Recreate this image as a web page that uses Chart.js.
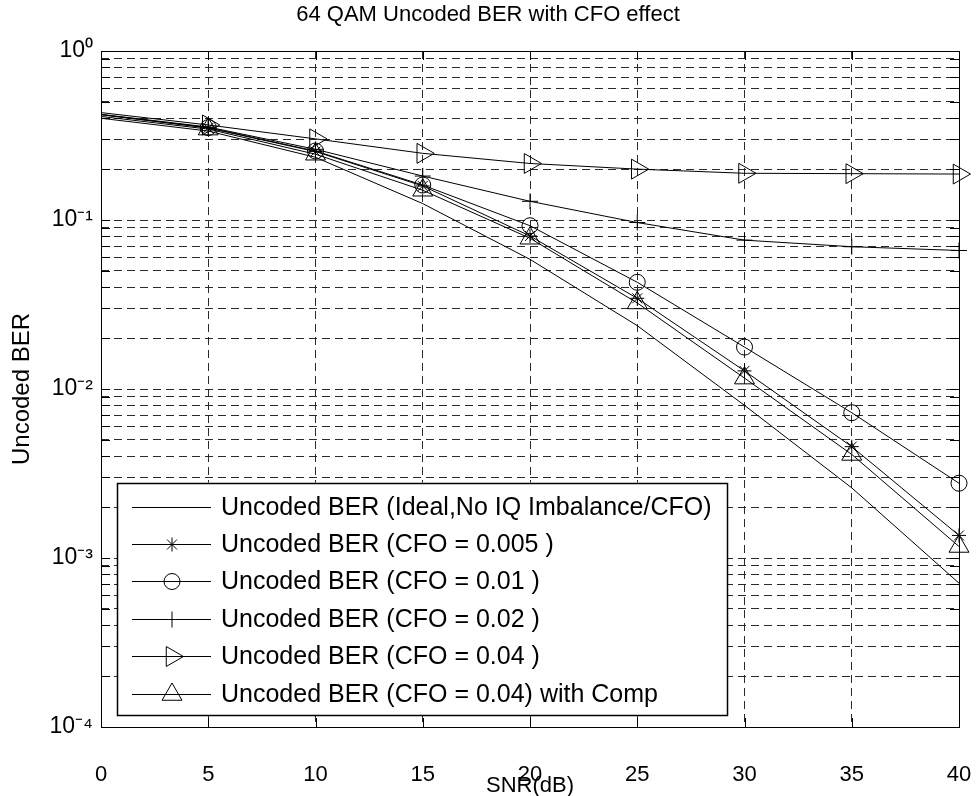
<!DOCTYPE html>
<html>
<head>
<meta charset="utf-8">
<script src="https://cdn.jsdelivr.net/npm/chart.js@4.4.0/dist/chart.umd.min.js"></script>
<style>
    html, body { margin: 0; padding: 0; background: #fff; }
    #wrap { width: 976px; height: 796px; }
</style>
</head>
<body>
<div id="wrap"><canvas id="berChart"></canvas></div>
<script>
// SNR points (dB)
const snr = [0, 5, 10, 15, 20, 25, 30, 35, 40];

// uncoded BER
const berIdeal     = [0.400, 0.336, 0.235, 0.125, 0.0585, 0.0237, 0.0080, 0.0026, 0.00071];
const berCfo005    = [0.420, 0.350, 0.254, 0.159, 0.0804, 0.0344, 0.0128, 0.00456, 0.00136];
const berCfo01     = [0.420, 0.352, 0.256, 0.161, 0.0925, 0.0428, 0.0177, 0.00724, 0.00277];
const berCfo02     = [0.422, 0.355, 0.262, 0.182, 0.129, 0.0966, 0.0760, 0.0695, 0.0660];
const berCfo04     = [0.432, 0.365, 0.302, 0.248, 0.216, 0.200, 0.189, 0.188, 0.187];
const berCfo04Comp = [0.410, 0.345, 0.245, 0.150, 0.078, 0.0323, 0.0116, 0.0041, 0.00117];

const seriesNames = [
    'Uncoded BER (Ideal,No IQ Imbalance/CFO)',
    'Uncoded BER (CFO = 0.005 )',
    'Uncoded BER (CFO = 0.01 )',
    'Uncoded BER (CFO = 0.02 )',
    'Uncoded BER (CFO = 0.04 )',
    'Uncoded BER (CFO = 0.04) with Comp'
];

// axis ticks
const xTicks = [0, 5, 10, 15, 20, 25, 30, 35, 40];
const yDecades = [1e-4, 1e-3, 1e-2, 1e-1, 1];
const yDecadeLabels = ['10⁻⁴', '10⁻³', '10⁻²', '10⁻¹', '10⁰'];
const yMinorSteps = [2, 3, 4, 5, 6, 7, 8, 9];

const FONT = "'Liberation Sans', Arial, Helvetica, sans-serif";

function makeSet(label, data, style, radius, rotation) {
    return {
        label: label,
        data: snr.map((x, i) => ({ x: x, y: data[i] })),
        borderColor: '#000',
        borderWidth: 1,
        pointStyle: style,
        pointRotation: rotation || 0,
        // no marker at 0 dB in the original
        pointRadius: snr.map(x => (style && x > 0) ? radius : 0),
        pointHoverRadius: 0,
        pointBackgroundColor: 'rgba(0,0,0,0)',
        pointBorderColor: '#000',
        pointBorderWidth: 1,
        tension: 0,
        clip: false
    };
}

const datasets = [
    makeSet(seriesNames[0], berIdeal, false, 0),
    makeSet(seriesNames[1], berCfo005, 'star', 7),
    makeSet(seriesNames[2], berCfo01, 'circle', 8),
    makeSet(seriesNames[3], berCfo02, 'cross', 8),
    makeSet(seriesNames[4], berCfo04, 'triangle', 11.5, 90),
    makeSet(seriesNames[5], berCfo04Comp, 'triangle', 11.5)
];

function decadeIndex(v) {
    return yDecades.findIndex(d => Math.abs(v - d) / d < 1e-6);
}

// solid frame + inward tick marks like the matlab axes
const frameTicks = {
    id: 'frameTicks',
    afterDatasetsDraw(chart) {
        const ctx = chart.ctx;
        const a = chart.chartArea;
        const xs = chart.scales.x, ys = chart.scales.y;
        ctx.save();
        ctx.strokeStyle = '#000';
        ctx.lineWidth = 1;
        ctx.beginPath();
        xs.ticks.forEach(t => {
            const px = Math.round(xs.getPixelForValue(t.value)) + 0.5;
            ctx.moveTo(px, a.bottom); ctx.lineTo(px, a.bottom - 9);
            ctx.moveTo(px, a.top); ctx.lineTo(px, a.top + 9);
        });
        ys.ticks.forEach(t => {
            const py = Math.round(ys.getPixelForValue(t.value)) + 0.5;
            ctx.moveTo(a.left, py); ctx.lineTo(a.left + 9, py);
            ctx.moveTo(a.right, py); ctx.lineTo(a.right - 9, py);
        });
        ctx.stroke();
        ctx.strokeRect(Math.round(a.left) + 0.5, Math.round(a.top) + 0.5,
                       Math.round(a.right - a.left), Math.round(a.bottom - a.top));
        ctx.restore();
    }
};

// legend box in the lower left corner of the plot
const boxLegend = {
    id: 'boxLegend',
    afterDraw(chart) {
        const ctx = chart.ctx;
        const a = chart.chartArea;
        const rowH = 37.4;
        ctx.save();
        ctx.font = '25px ' + FONT;
        let textW = 0;
        chart.data.datasets.forEach(ds => { textW = Math.max(textW, ctx.measureText(ds.label).width); });
        const left = a.left + 16;
        const textX = left + 104;
        const right = textX + textW + 16;
        const bottom = a.bottom - 12;
        const top = bottom - rowH * chart.data.datasets.length - 8;

        ctx.fillStyle = '#fff';
        ctx.fillRect(left, top, right - left, bottom - top);
        ctx.strokeStyle = '#000';
        ctx.lineWidth = 1.5;
        ctx.strokeRect(Math.round(left) + 0.5, Math.round(top) + 0.5, Math.round(right - left), Math.round(bottom - top));

        chart.data.datasets.forEach((ds, i) => {
            const cy = Math.round(top + 24 + i * rowH) + 0.5;
            ctx.strokeStyle = '#000';
            ctx.lineWidth = 1;
            ctx.beginPath();
            ctx.moveTo(left + 15, cy);
            ctx.lineTo(left + 94, cy);
            ctx.stroke();
            if (ds.pointStyle) {
                const r = ds.pointRadius[ds.pointRadius.length - 1];
                ctx.fillStyle = 'rgba(0,0,0,0)';
                Chart.helpers.drawPoint(ctx, {
                    pointStyle: ds.pointStyle,
                    rotation: ds.pointRotation,
                    radius: r,
                    borderWidth: 1
                }, left + 55, cy);
            }
            ctx.fillStyle = '#000';
            ctx.textBaseline = 'middle';
            ctx.textAlign = 'left';
            ctx.fillText(ds.label, textX, cy + 1);
        });
        ctx.restore();
    }
};

const ctx = document.getElementById('berChart').getContext('2d');

const config = {
    type: 'line',
    data: { datasets: datasets },
    options: {
        responsive: true,
        maintainAspectRatio: false,
        animation: false,
        events: [],
        layout: { padding: 0 },
        plugins: {
            legend: { display: false },
            tooltip: { enabled: false },
            title: {
                display: true,
                text: '64 QAM Uncoded BER with CFO effect',
                color: '#000',
                font: { family: FONT, size: 22, weight: 'normal' },
                padding: { top: 2, bottom: 22.6 }
            }
        },
        scales: {
            x: {
                type: 'linear',
                min: 0,
                max: 40,
                afterBuildTicks: s => { s.ticks = xTicks.map(v => ({ value: v })); },
                afterFit: s => {
                    s.height = 69;
                    s.paddingLeft = 0;
                    s.paddingRight = 17;
                },
                ticks: {
                    color: '#000',
                    font: { family: FONT, size: 22 },
                    padding: 35,
                    maxRotation: 0,
                    autoSkip: false
                },
                grid: { color: '#2a2a2a', lineWidth: 1, drawTicks: false },
                border: { display: false, dash: [8, 5] },
                title: {
                    display: true,
                    text: 'SNR(dB)',
                    color: '#000',
                    font: { family: FONT, size: 22 },
                    padding: { top: 0, bottom: -3 }
                }
            },
            y: {
                type: 'logarithmic',
                min: 1e-4,
                max: 1,
                afterBuildTicks: s => {
                    const t = [];
                    yDecades.forEach(d => {
                        t.push({ value: d });
                        if (d < 1) yMinorSteps.forEach(m => t.push({ value: d * m }));
                    });
                    s.ticks = t.sort((p, q) => p.value - q.value);
                },
                afterFit: s => { s.width = 101; },
                ticks: {
                    color: '#000',
                    font: { family: FONT, size: 23 },
                    padding: 8,
                    autoSkip: false,
                    callback: v => decadeIndex(v) >= 0 ? yDecadeLabels[decadeIndex(v)] : ''
                },
                grid: { color: '#2a2a2a', lineWidth: 1, drawTicks: false },
                border: { display: false, dash: [8, 5] },
                title: {
                    display: true,
                    text: 'Uncoded BER',
                    color: '#000',
                    font: { family: FONT, size: 24 },
                    padding: { top: 8, bottom: 0 }
                }
            }
        }
    },
    plugins: [frameTicks, boxLegend]
};

const berChart = new Chart(ctx, config);
</script>
</body>
</html>
